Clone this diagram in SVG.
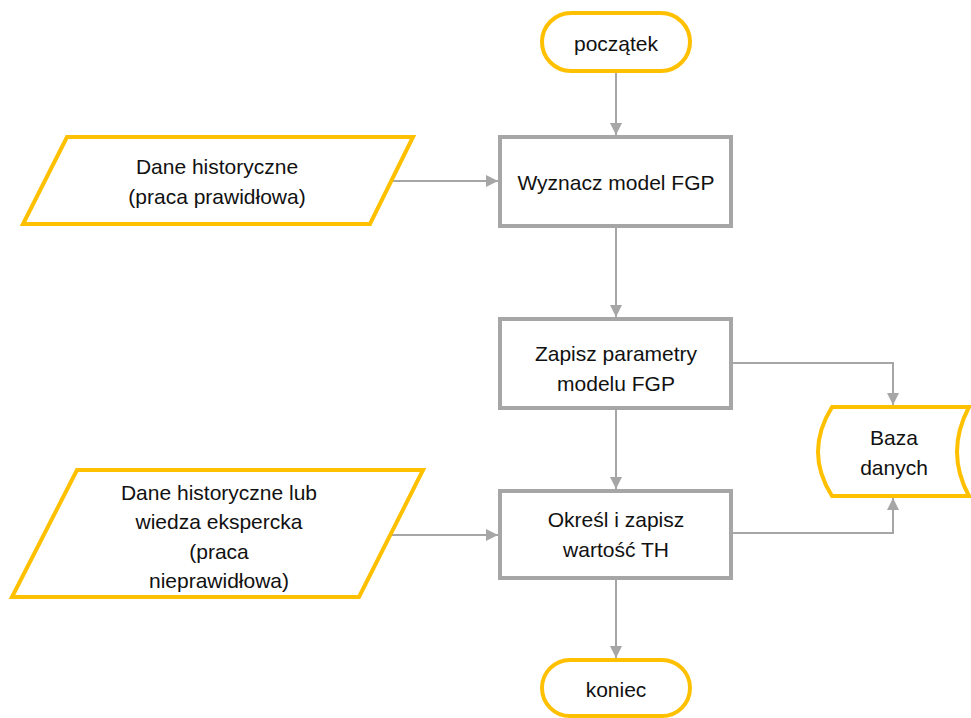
<svg xmlns="http://www.w3.org/2000/svg" width="971" height="718" viewBox="0 0 971 718">
  <style>
    .term { fill: #ffffff; stroke: #FFC000; stroke-width: 4; }
    .io { fill: #ffffff; stroke: #FFC000; stroke-width: 4; stroke-linejoin: miter; }
    .proc { fill: #ffffff; stroke: #A6A6A6; stroke-width: 4; }
    .store { fill: #ffffff; stroke: #FFC000; stroke-width: 4; }
    .lbl { font-family: "Liberation Sans", Arial, sans-serif; font-size: 21px; fill: #111111; text-anchor: middle; dominant-baseline: central; }
    .conn { fill: none; stroke: #A6A6A6; stroke-width: 2; }
  </style>
  <defs>
    <marker id="arrow" viewBox="0 0 12 12" refX="12" refY="6" markerWidth="12" markerHeight="12" markerUnits="userSpaceOnUse" orient="auto">
      <path d="M0,0 L12,6 L0,12 Z" fill="#A6A6A6"/>
    </marker>
  </defs>

  <rect width="971" height="718" fill="#ffffff"/>

  <g id="connectors">
    <path class="conn" d="M616,71 V135" marker-end="url(#arrow)"/>
    <path class="conn" d="M392,181 H498" marker-end="url(#arrow)"/>
    <path class="conn" d="M616,226 V317" marker-end="url(#arrow)"/>
    <path class="conn" d="M731,363 H893 V405" marker-end="url(#arrow)"/>
    <path class="conn" d="M616,408 V489" marker-end="url(#arrow)"/>
    <path class="conn" d="M392,535 H498" marker-end="url(#arrow)"/>
    <path class="conn" d="M731,533 H893 V498" marker-end="url(#arrow)"/>
    <path class="conn" d="M616,578 V658" marker-end="url(#arrow)"/>
  </g>

  <g id="start">
    <rect class="term" x="542" y="13" width="148" height="58" rx="29" ry="29"/>
    <text class="lbl" x="616" y="43">początek</text>
  </g>

  <g id="input-historical">
    <polygon class="io" points="67,137 413,137 370,224 23,224"/>
    <text class="lbl" x="217" y="166">Dane historyczne</text>
    <text class="lbl" x="217" y="196">(praca prawidłowa)</text>
  </g>

  <g id="fit-model">
    <rect class="proc" x="500" y="137" width="231" height="89"/>
    <text class="lbl" x="616" y="182">Wyznacz model FGP</text>
  </g>

  <g id="save-params">
    <rect class="proc" x="500" y="319" width="231" height="89"/>
    <text class="lbl" x="616" y="353">Zapisz parametry</text>
    <text class="lbl" x="616" y="383">modelu FGP</text>
  </g>

  <g id="database">
    <path class="store" d="M832,407 L969,407 Q945,452 969,496 L832,496 Q804,452 832,407 Z"/>
    <text class="lbl" x="894" y="437">Baza</text>
    <text class="lbl" x="894" y="467">danych</text>
  </g>

  <g id="input-expert">
    <polygon class="io" points="77,470 423,470 359,597 12,597"/>
    <text class="lbl" x="219" y="492">Dane historyczne lub</text>
    <text class="lbl" x="219" y="521">wiedza ekspercka</text>
    <text class="lbl" x="219" y="551">(praca</text>
    <text class="lbl" x="219" y="580">nieprawidłowa)</text>
  </g>

  <g id="threshold">
    <rect class="proc" x="500" y="491" width="231" height="87"/>
    <text class="lbl" x="616" y="519">Określ i zapisz</text>
    <text class="lbl" x="616" y="549">wartość TH</text>
  </g>

  <g id="end">
    <rect class="term" x="542" y="660" width="148" height="56" rx="28" ry="28"/>
    <text class="lbl" x="616" y="689">koniec</text>
  </g>
</svg>
